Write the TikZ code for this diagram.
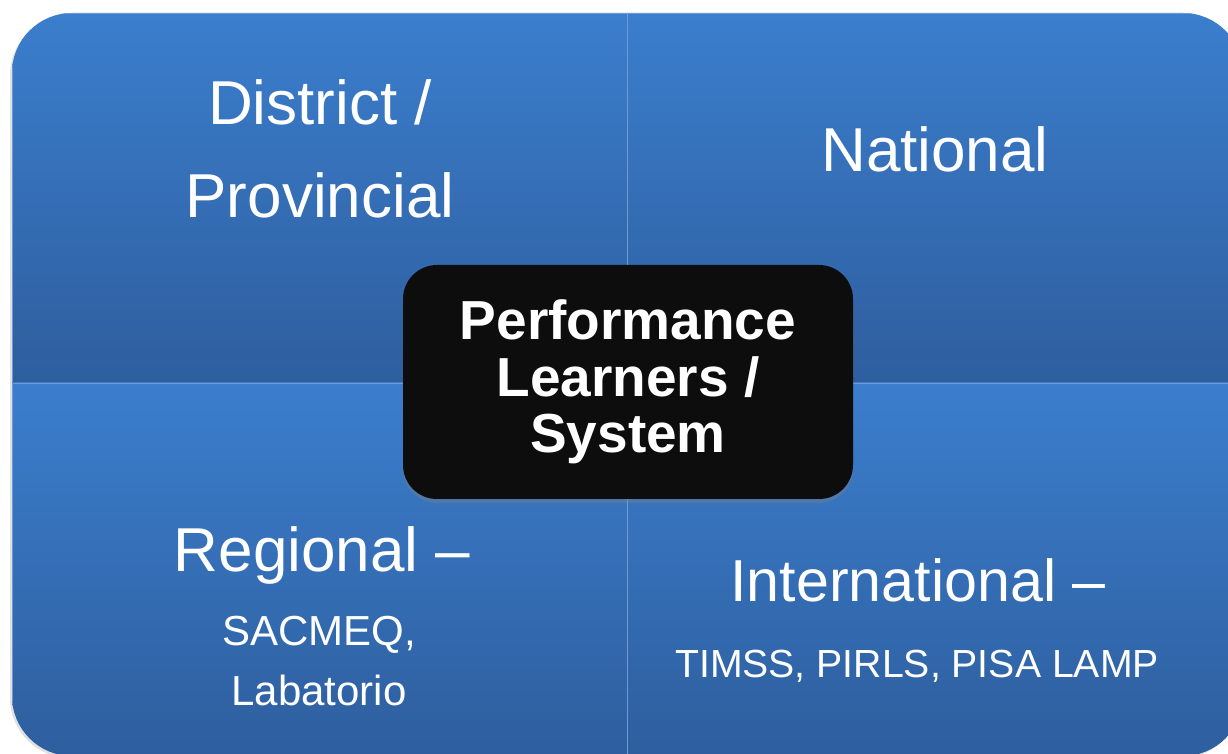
\documentclass[tikz,border=0pt]{standalone}
\usepackage{fontspec}
\setmainfont{Liberation Sans}
\usetikzlibrary{shadows}
\definecolor{quadtop}{HTML}{3B7ECD}
\definecolor{quadbot}{HTML}{2E5E9E}
\definecolor{quadline}{HTML}{6E9BD6}
\definecolor{core}{HTML}{0D0D0D}
\tikzset{
  qfill/.style={top color=quadtop,bottom color=quadbot,draw=quadline,line width=0.4pt},
  qhead/.style={text=white,align=center,anchor=base,inner sep=0pt,font=\fontsize{31}{46.5}\selectfont},
  qsub/.style={text=white,align=center,anchor=base,inner sep=0pt,font=\fontsize{21}{30}\selectfont},
  vcore/.style={fill=core,text=white,rounded corners=17pt,align=center,minimum width=225pt,
    minimum height=117pt,inner sep=0pt,font=\bfseries\fontsize{27.5}{28.25}\selectfont,
    drop shadow={opacity=0.35,shadow xshift=0pt,shadow yshift=-2pt}}
}
\begin{document}
\begin{tikzpicture}[x=0.5pt,y=-0.5pt]
  \clip (0,0) rectangle (1228,754);
  \fill[white] (0,0) rectangle (1228,754);
  % soft frame shadow
  \fill[black,opacity=0.12,rounded corners=30pt] (10,15) rectangle (1241,758);
  \begin{scope}
    \clip[rounded corners=30pt] (12,13) rectangle (1243,756);
    \path[qfill] (12,13) rectangle (627,383);
    \path[qfill] (627,13) rectangle (1243,383);
    \path[qfill] (12,383) rectangle (627,756);
    \path[qfill] (627,383) rectangle (1243,756);
  \end{scope}
  \node[qhead] (district) at (320,218) {District /\\Provincial};
  \node[qhead] (national) at (935,172) {National};
  \node[qhead] (regional) at (322,572) {Regional –};
  \node[qsub] (sacmeq) at (319,705) {SACMEQ,\\Labatorio};
  \node[qhead,font=\fontsize{29.6}{40}\selectfont] (intl) at (918,602) {International –};
  \node[qsub,font=\fontsize{19.6}{30}\selectfont] (timss) at (917,677) {TIMSS, PIRLS, PISA LAMP};
  \node[vcore] (perf) at (628,382) {Performance\\Learners /\\System};
\end{tikzpicture}
\end{document}
